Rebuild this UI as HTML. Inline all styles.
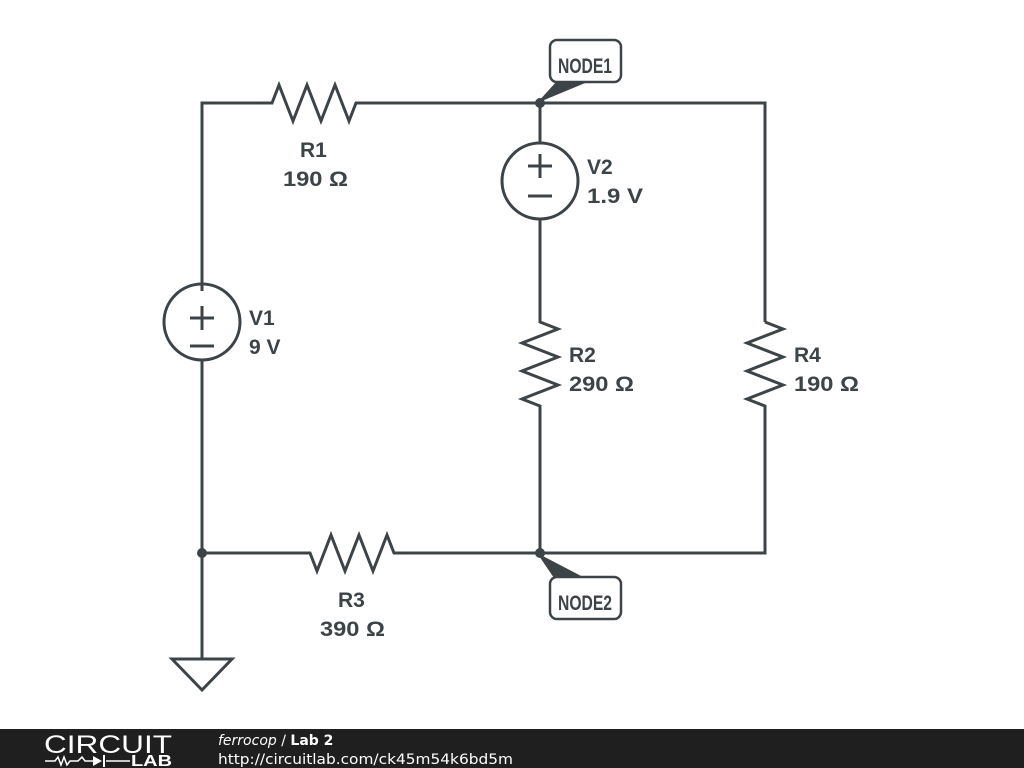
<!DOCTYPE html>
<html><head><style>
body{margin:0;width:1024px;height:768px;background:#fff;overflow:hidden;font-family:"Liberation Sans",sans-serif}
</style></head><body>
<svg width="1024" height="768" xmlns="http://www.w3.org/2000/svg" style="position:absolute;left:0;top:0">
<g stroke="#3d4448" stroke-width="3" fill="none" stroke-linejoin="miter">
<polyline points="202,291 202,103 272,103 279,85 293,121 307,85 321,121 335,85 349,121 356,103 765,103 765,322"/>
<circle cx="202" cy="322" r="38"/>
<polyline points="202,360 202,659"/>
<polyline points="202,553 310,553 317,571 331,535 345,571 359,535 373,571 387,535 394,553 765,553 765,408"/>
<polyline points="765,322 783,329 747,343 783,357 747,371 783,385 747,399 765,406 765,410"/>
<polyline points="540,103 540,143"/>
<circle cx="540" cy="181" r="38"/>
<polyline points="540,219 540,322 558,329 522,343 558,357 522,371 558,385 522,399 540,406 540,553"/>
<polygon points="172,659 232,659 202,690"/>
<line x1="190" y1="318" x2="214" y2="318"/><line x1="202" y1="306" x2="202" y2="330"/><line x1="190" y1="346" x2="214" y2="346"/>
<line x1="528" y1="166" x2="552" y2="166"/><line x1="540" y1="154" x2="540" y2="178"/><line x1="528" y1="196" x2="552" y2="196"/>
<rect x="550" y="40" width="71" height="42" rx="7" stroke-width="2.5"/>
<rect x="550" y="577" width="71" height="42" rx="7" stroke-width="2.5"/>
</g>
<g fill="#3d4448">
<circle cx="540" cy="103" r="5"/><circle cx="540" cy="553" r="5"/><circle cx="202" cy="553" r="5"/>
<polygon points="537,103 557,81 590,81"/>
<polygon points="537,553 554,578 585,578"/>
</g>
<g fill="#3d4448" font-weight="bold" font-size="21">
<text x="558" y="73" font-size="21" textLength="54" lengthAdjust="spacingAndGlyphs">NODE1</text>
<text x="558" y="610" font-size="21" textLength="54" lengthAdjust="spacingAndGlyphs">NODE2</text>
<text x="300" y="157">R1</text>
<text x="283" y="186" textLength="65" lengthAdjust="spacingAndGlyphs">190 Ω</text>
<text x="249" y="325">V1</text><text x="249" y="354">9 V</text>
<text x="587" y="174">V2</text><text x="587" y="203" textLength="56" lengthAdjust="spacingAndGlyphs">1.9 V</text>
<text x="569" y="362">R2</text><text x="569" y="391" textLength="65" lengthAdjust="spacingAndGlyphs">290 Ω</text>
<text x="794" y="362">R4</text><text x="794" y="391" textLength="65" lengthAdjust="spacingAndGlyphs">190 Ω</text>
<text x="338" y="607">R3</text>
<text x="320" y="636" textLength="65" lengthAdjust="spacingAndGlyphs">390 Ω</text>
</g>
<rect x="0" y="729" width="1024" height="39" fill="#1f1f1f"/>
<text x="44" y="753" fill="#fff" font-size="25" font-family="Liberation Sans" textLength="128" lengthAdjust="spacingAndGlyphs">CIRCUIT</text>
<g stroke="#fff" stroke-width="1.5" fill="none"><polyline points="45,761 55,761 58,757 61,765 64,757 67,765 70,761 78,761 82,757 85,761 93,761"/><polyline points="106,761 130,761"/></g>
<polygon points="93,756 93,766 102,761" fill="#fff"/><line x1="104" y1="755" x2="104" y2="767" stroke="#fff" stroke-width="2"/>
<text x="131" y="766" fill="#fff" font-size="16" font-weight="bold" textLength="41" lengthAdjust="spacingAndGlyphs">LAB</text>
<text x="218" y="745" fill="#fff" font-size="14" font-family="DejaVu Sans"><tspan font-style="italic">ferrocop</tspan> / <tspan font-weight="bold">Lab 2</tspan></text>
<text x="218" y="764" fill="#fff" font-size="14" font-family="DejaVu Sans" textLength="295" lengthAdjust="spacingAndGlyphs">http://circuitlab.com/ck45m54k6bd5m</text>
</svg>
</body></html>
